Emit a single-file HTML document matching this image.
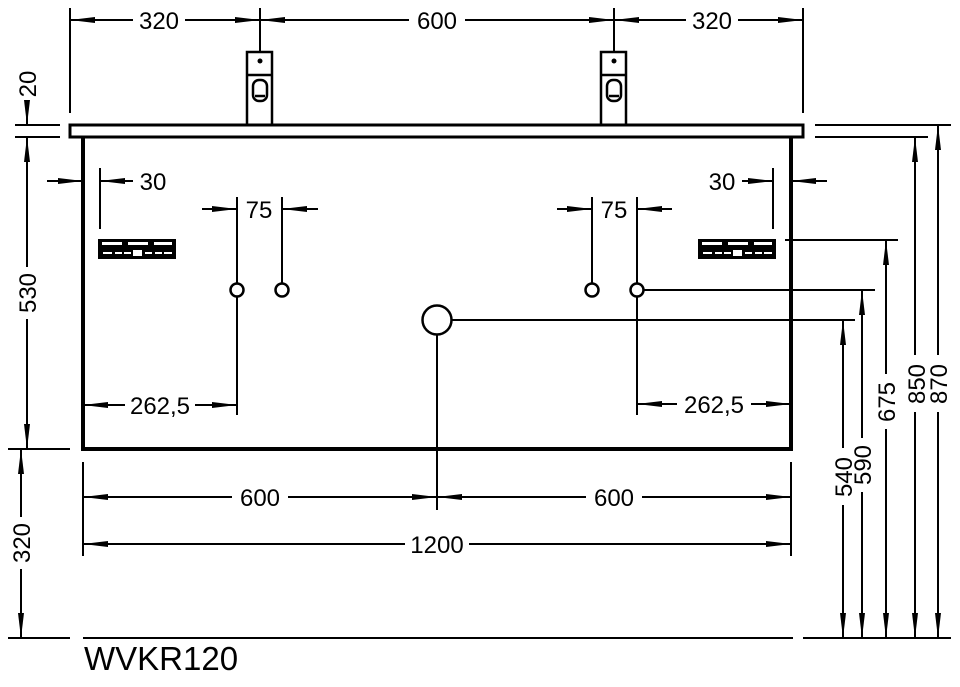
<!DOCTYPE html>
<html><head><meta charset="utf-8"><style>
html,body{margin:0;padding:0;background:#fff;}
svg{display:block;}
text{font-family:"Liberation Sans",Arial,sans-serif;font-size:24px;fill:#000;}
</style></head><body>
<svg width="960" height="687" viewBox="0 0 960 687" xmlns="http://www.w3.org/2000/svg">
<rect width="960" height="687" fill="#fff"/>
<g stroke="#000" fill="none" stroke-width="2">
<!-- top dimension -->
<line x1="70" y1="8" x2="70" y2="113"/>
<line x1="803" y1="8" x2="803" y2="113"/>
<line x1="260" y1="8" x2="260" y2="52"/>
<line x1="614" y1="8" x2="614" y2="52"/>
<line x1="70" y1="20" x2="133" y2="20"/>
<line x1="185" y1="20" x2="260" y2="20"/>
<line x1="260" y1="20" x2="409" y2="20"/>
<line x1="465" y1="20" x2="614" y2="20"/>
<line x1="614" y1="20" x2="686" y2="20"/>
<line x1="738" y1="20" x2="803" y2="20"/>
<!-- left dims -->
<line x1="15" y1="125" x2="60" y2="125"/>
<line x1="15" y1="137" x2="60" y2="137"/>
<line x1="27" y1="100" x2="27" y2="125"/>
<line x1="27" y1="137" x2="27" y2="267"/>
<line x1="27" y1="319" x2="27" y2="449"/>
<line x1="8" y1="449" x2="70" y2="449"/>
<line x1="21" y1="449" x2="21" y2="517"/>
<line x1="21" y1="569" x2="21" y2="638"/>
<line x1="8" y1="638" x2="70" y2="638"/>
<!-- 30 dims -->
<line x1="47" y1="181" x2="83" y2="181"/>
<line x1="100" y1="168" x2="100" y2="229"/>
<line x1="100" y1="181" x2="133" y2="181"/>
<line x1="742" y1="181" x2="773" y2="181"/>
<line x1="773" y1="168" x2="773" y2="229"/>
<line x1="791" y1="181" x2="827" y2="181"/>
<!-- 75 dims -->
<line x1="237" y1="197" x2="237" y2="283"/>
<line x1="282" y1="197" x2="282" y2="283"/>
<line x1="202" y1="209" x2="237" y2="209"/>
<line x1="282" y1="209" x2="318" y2="209"/>
<line x1="592" y1="197" x2="592" y2="283"/>
<line x1="637" y1="197" x2="637" y2="283"/>
<line x1="557" y1="209" x2="592" y2="209"/>
<line x1="637" y1="209" x2="672" y2="209"/>
<!-- 262,5 -->
<line x1="237" y1="297" x2="237" y2="415"/>
<line x1="83" y1="405" x2="125" y2="405"/>
<line x1="195" y1="405" x2="237" y2="405"/>
<line x1="637" y1="297" x2="637" y2="415"/>
<line x1="637" y1="404" x2="677" y2="404"/>
<line x1="751" y1="404" x2="791" y2="404"/>
<!-- drain & horizontal refs -->
<line x1="437" y1="334" x2="437" y2="510"/>
<line x1="451" y1="320" x2="855" y2="320"/>
<line x1="644" y1="290" x2="875" y2="290"/>
<line x1="785" y1="240" x2="898" y2="240"/>
<line x1="815" y1="125" x2="951" y2="125"/>
<line x1="815" y1="137" x2="928" y2="137"/>
<line x1="83" y1="638" x2="793" y2="638"/>
<line x1="803" y1="638" x2="951" y2="638"/>
<!-- right verticals -->
<line x1="843" y1="320" x2="843" y2="448"/>
<line x1="843" y1="505" x2="843" y2="638"/>
<line x1="862" y1="290" x2="862" y2="438"/>
<line x1="862" y1="492" x2="862" y2="638"/>
<line x1="886" y1="240" x2="886" y2="374"/>
<line x1="886" y1="429" x2="886" y2="638"/>
<line x1="915" y1="137" x2="915" y2="355"/>
<line x1="915" y1="412" x2="915" y2="638"/>
<line x1="938" y1="125" x2="938" y2="355"/>
<line x1="938" y1="412" x2="938" y2="638"/>
<!-- bottom dims -->
<line x1="83" y1="462" x2="83" y2="556"/>
<line x1="791" y1="462" x2="791" y2="556"/>
<line x1="83" y1="497" x2="232" y2="497"/>
<line x1="288" y1="497" x2="437" y2="497"/>
<line x1="437" y1="497" x2="586" y2="497"/>
<line x1="642" y1="497" x2="791" y2="497"/>
<line x1="83" y1="544" x2="405" y2="544"/>
<line x1="469" y1="544" x2="791" y2="544"/>
</g>
<!-- countertop and cabinet -->
<rect x="70" y="125" width="733" height="12" stroke="#000" stroke-width="3" fill="none"/>
<path d="M83 137 V449 H791 V137" stroke="#000" stroke-width="4" fill="none"/>
<!-- faucets -->
<g stroke="#000" stroke-width="2.5" fill="none">
<rect x="247" y="52" width="25" height="73"/>
<line x1="247" y1="75" x2="272" y2="75"/>
<rect x="253" y="80" width="14" height="21" rx="6"/>
<line x1="255" y1="96" x2="265" y2="96"/>
<rect x="601" y="52" width="25" height="73"/>
<line x1="601" y1="75" x2="626" y2="75"/>
<rect x="607" y="80" width="14" height="21" rx="6"/>
<line x1="609" y1="96" x2="619" y2="96"/>
<circle cx="237" cy="290" r="6.5"/>
<circle cx="282" cy="290" r="6.5"/>
<circle cx="592" cy="290" r="6.5"/>
<circle cx="637" cy="290" r="6.5"/>
<circle cx="437" cy="320" r="14.5"/>
</g>
<circle cx="260" cy="61" r="2.5" fill="#000"/>
<circle cx="614" cy="61" r="2.5" fill="#000"/>
<!-- plates -->
<g>
<rect x="98" y="239" width="78" height="20" fill="#000"/>
<g fill="#fff">
<rect x="102" y="242" width="20" height="3"/><rect x="128" y="242" width="20" height="3"/><rect x="154" y="242" width="18" height="3"/>
<rect x="103" y="252" width="9" height="2"/><rect x="115" y="252" width="7" height="2"/><rect x="124" y="252" width="7" height="2"/>
<rect x="133" y="250" width="9" height="6"/>
<rect x="145" y="252" width="7" height="2"/><rect x="155" y="252" width="7" height="2"/><rect x="164" y="252" width="8" height="2"/>
</g>
<rect x="698" y="239" width="78" height="20" fill="#000"/>
<g fill="#fff">
<rect x="702" y="242" width="20" height="3"/><rect x="728" y="242" width="20" height="3"/><rect x="754" y="242" width="18" height="3"/>
<rect x="703" y="252" width="9" height="2"/><rect x="715" y="252" width="7" height="2"/><rect x="724" y="252" width="7" height="2"/>
<rect x="733" y="250" width="9" height="6"/>
<rect x="745" y="252" width="7" height="2"/><rect x="755" y="252" width="7" height="2"/><rect x="764" y="252" width="8" height="2"/>
</g>
</g>
<!-- arrowheads -->
<g fill="#000">
<polygon points="70,20 95,17 95,23"/>
<polygon points="260,20 235,17 235,23"/>
<polygon points="260,20 285,17 285,23"/>
<polygon points="614,20 589,17 589,23"/>
<polygon points="614,20 639,17 639,23"/>
<polygon points="803,20 778,17 778,23"/>
<polygon points="27,125 24,100 30,100"/>
<polygon points="27,137 24,162 30,162"/>
<polygon points="27,449 24,424 30,424"/>
<polygon points="21,449 18,474 24,474"/>
<polygon points="21,638 18,613 24,613"/>
<polygon points="83,181 58,178 58,184"/>
<polygon points="100,181 125,178 125,184"/>
<polygon points="773,181 748,178 748,184"/>
<polygon points="791,181 816,178 816,184"/>
<polygon points="237,209 212,206 212,212"/>
<polygon points="282,209 307,206 307,212"/>
<polygon points="592,209 567,206 567,212"/>
<polygon points="637,209 662,206 662,212"/>
<polygon points="83,405 108,402 108,408"/>
<polygon points="237,405 212,402 212,408"/>
<polygon points="637,404 662,401 662,407"/>
<polygon points="791,404 766,401 766,407"/>
<polygon points="843,320 840,345 846,345"/>
<polygon points="843,638 840,613 846,613"/>
<polygon points="862,290 859,315 865,315"/>
<polygon points="862,638 859,613 865,613"/>
<polygon points="886,240 883,265 889,265"/>
<polygon points="886,638 883,613 889,613"/>
<polygon points="915,137 912,162 918,162"/>
<polygon points="915,638 912,613 918,613"/>
<polygon points="938,125 935,150 941,150"/>
<polygon points="938,638 935,613 941,613"/>
<polygon points="83,497 108,494 108,500"/>
<polygon points="437,497 412,494 412,500"/>
<polygon points="437,497 462,494 462,500"/>
<polygon points="791,497 766,494 766,500"/>
<polygon points="83,544 108,541 108,547"/>
<polygon points="791,544 766,541 766,547"/>
</g>
<!-- labels -->
<g text-anchor="middle">
<text x="159" y="29">320</text>
<text x="437" y="29">600</text>
<text x="712" y="29">320</text>
<text x="153" y="190">30</text>
<text x="722" y="190">30</text>
<text x="259" y="218">75</text>
<text x="614" y="218">75</text>
<text x="160" y="414">262,5</text>
<text x="714" y="413">262,5</text>
<text x="260" y="506">600</text>
<text x="614" y="506">600</text>
<text x="437" y="553">1200</text>
<text x="27" y="93" transform="rotate(-90 27 84)">20</text>
<text x="27" y="302" transform="rotate(-90 27 293)">530</text>
<text x="21" y="552" transform="rotate(-90 21 543)">320</text>
<text x="843" y="486" transform="rotate(-90 843 477)">540</text>
<text x="862" y="474" transform="rotate(-90 862 465)">590</text>
<text x="886" y="411" transform="rotate(-90 886 402)">675</text>
<text x="916" y="393" transform="rotate(-90 916 384)">850</text>
<text x="938" y="393" transform="rotate(-90 938 384)">870</text>
</g>
<text x="84" y="670" style="font-size:33px">WVKR120</text>
</svg>
</body></html>
